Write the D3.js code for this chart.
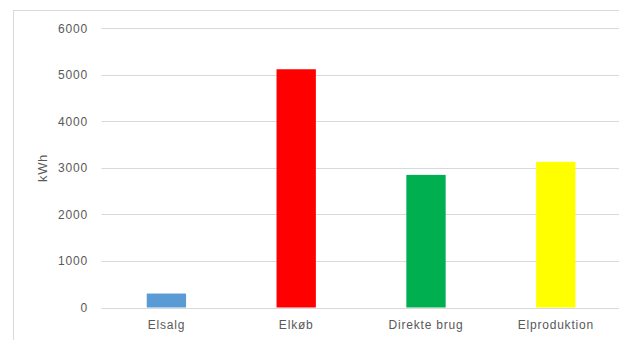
<!DOCTYPE html>
<html>
<head>
<meta charset="utf-8">
<script src="https://cdn.jsdelivr.net/npm/d3@7"></script>
<style>
  html, body { margin: 0; padding: 0; background: #fff; }
  svg { display: block; }
  text { font-family: "Liberation Sans", Arial, sans-serif; fill: #595959; }
</style>
</head>
<body>
<svg id="chart" width="619" height="340"></svg>
<script>
// Energy balance (kWh)
const categories = ["Elsalg", "Elkøb", "Direkte brug", "Elproduktion"];
const values = [300, 5120, 2850, 3130];
const barColors = ["#5B9BD5", "#FF0000", "#00B050", "#FFFF00"];
const yTicks = [0, 1000, 2000, 3000, 4000, 5000, 6000];
const yTitle = "kWh";

const svg = d3.select("#chart");
const W = 619, H = 340;

// chart area frame
svg.append("rect")
  .attr("x", 13.5).attr("y", 10.5)
  .attr("width", 640).attr("height", 360)
  .attr("fill", "#fff")
  .attr("stroke", "#d9d9d9").attr("stroke-width", 1);

const plot = { left: 101.5, right: 620.7, top: 28.3, bottom: 307.5 };

const x = d3.scaleBand()
  .domain(categories)
  .range([plot.left, plot.right])
  .padding(0);

const y = d3.scaleLinear()
  .domain([0, 6000])
  .range([plot.bottom, plot.top]);

// horizontal gridlines
svg.append("g")
  .selectAll("line")
  .data(yTicks)
  .join("line")
  .attr("x1", plot.left).attr("x2", W)
  .attr("y1", d => Math.round(y(d)) + 0.5)
  .attr("y2", d => Math.round(y(d)) + 0.5)
  .attr("stroke", "#d9d9d9").attr("stroke-width", 1);

// y-axis tick labels
const yAxis = d3.axisLeft(y).tickValues(yTicks).tickFormat(d3.format("d")).tickSize(0).tickPadding(0);
const gy = svg.append("g")
  .attr("transform", `translate(88,0)`)
  .call(yAxis);
gy.select(".domain").remove();
gy.selectAll("text")
  .attr("font-size", 12)
  .attr("letter-spacing", "0.8px")
  .attr("fill", "#595959")
  .style("font-family", "'Liberation Sans', Arial, sans-serif");

// bars
const barFrac = 0.303;
svg.append("g")
  .selectAll("rect")
  .data(categories)
  .join("rect")
  .attr("x", d => x(d) + x.bandwidth() * (1 - barFrac) / 2)
  .attr("width", x.bandwidth() * barFrac)
  .attr("y", (d, i) => y(values[i]))
  .attr("height", (d, i) => y(0) - y(values[i]))
  .attr("fill", (d, i) => barColors[i]);

// x-axis category labels
const xAxis = d3.axisBottom(x).tickSize(0).tickPadding(0);
const gx = svg.append("g")
  .attr("transform", `translate(0,${plot.bottom + 13})`)
  .call(xAxis);
gx.select(".domain").remove();
gx.selectAll("text")
  .attr("font-size", 12)
  .attr("letter-spacing", "0.8px")
  .attr("fill", "#595959")
  .style("font-family", "'Liberation Sans', Arial, sans-serif");

// y-axis title
svg.append("text")
  .attr("transform", `translate(47,168) rotate(-90)`)
  .attr("text-anchor", "middle")
  .attr("font-size", 13)
  .attr("letter-spacing", "0.6px")
  .text(yTitle);
</script>
</body>
</html>
